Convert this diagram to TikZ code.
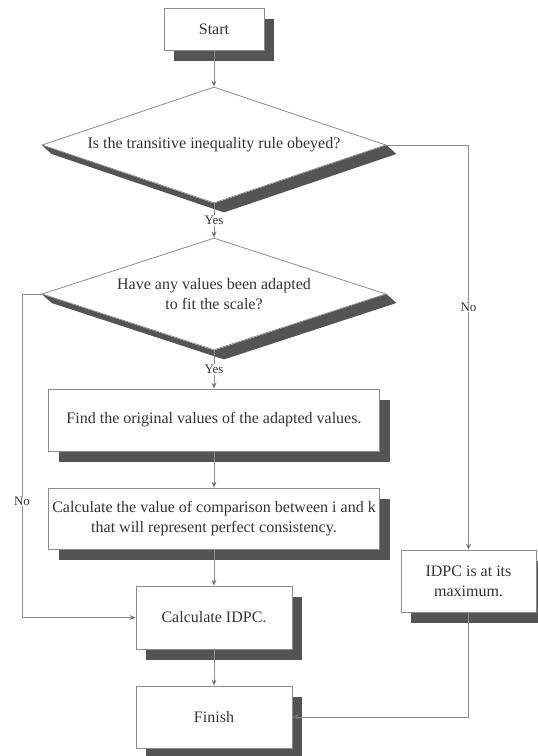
\documentclass[tikz,border=0pt]{standalone}
\usepackage{fontspec}
\setmainfont{Liberation Serif}
\usetikzlibrary{arrows.meta}
\usetikzlibrary{shapes.geometric,shadows}
\definecolor{gris}{rgb}{0.55,0.55,0.55}
\definecolor{ombre}{rgb}{0.33,0.33,0.33}
\definecolor{texte}{rgb}{0.2,0.2,0.2}
\pgfdeclarelayer{fond}
\pgfsetlayers{fond,main}

\begin{document}
\begin{tikzpicture}[x=1pt, y=-1pt, ->, >={Stealth[length=6pt, width=5pt, fill=ombre]}, line width=0.8pt, draw=gris, text=texte]
  \tikzstyle{boite}=[rectangle, draw=gris, fill=white, align=center, inner sep=2pt, font=\fontsize{16}{20}\selectfont,
    drop shadow={shadow xshift=10pt, shadow yshift=-11pt, fill=ombre, opacity=1}]
  \tikzstyle{choix}=[diamond, draw=gris, fill=white, align=center, inner sep=0pt, font=\fontsize{16}{20}\selectfont]
  \tikzstyle{etiq}=[fill=white, inner sep=1pt, font=\fontsize{13}{15}\selectfont]
  \useasboundingbox (0,0) rectangle (538,756);

	\node[boite, minimum width=100pt, minimum height=42pt] (S) at (214,29) {Start};
	\node[choix, aspect=2.97, minimum width=344pt, minimum height=116pt] (Q1) at (214,145) {Is the transitive inequality rule obeyed?};
	\node[choix, aspect=3.07, minimum width=344pt, minimum height=112pt] (Q2) at (214,294) {Have any values been adapted\\to fit the scale?};
	\node[boite, minimum width=331pt, minimum height=62pt] (F1) at (214,420) {Find the original values of the adapted values.};
	\node[boite, minimum width=331pt, minimum height=61pt] (F2) at (214,518.5) {Calculate the value of comparison between i and k\\that will represent perfect consistency.};
	\node[boite, minimum width=156pt, minimum height=63pt] (C) at (214,617.5) {Calculate IDPC.};
	\node[boite, minimum width=135pt, minimum height=62pt] (M) at (468.5,581) {IDPC is at its\\maximum.};
	\node[boite, minimum width=156pt, minimum height=62pt] (E) at (214,717) {Finish};
	\coordinate (NO) at (22,294);

	% ombre des losanges, seulement en bas
	\begin{pgfonlayer}{fond}
	\foreach \q in {Q1,Q2}
		\fill[ombre] (\q.west) -- (\q.south) -- (\q.east) -- ([shift={(10,9)}]\q.east)
			-- ([shift={(10,9)}]\q.south) -- ([shift={(10,9)}]\q.west) -- cycle;
	\end{pgfonlayer}

	\path
		(S) edge (Q1)
		(Q1) edge node[etiq] {Yes} (Q2)
		(Q2) edge node[etiq] {Yes} (F1)
		(F1) edge (F2)
		(F2) edge (C)
		(C) edge (E)
		;
	\draw (Q1.east) -| node[etiq, pos=0.7] {No} (M.north);
	\draw (Q2.west) -- (NO) |- node[etiq, pos=0.32] {No} (C.west);
	\draw (M.south) |- (E.east);

\end{tikzpicture}
\end{document}
